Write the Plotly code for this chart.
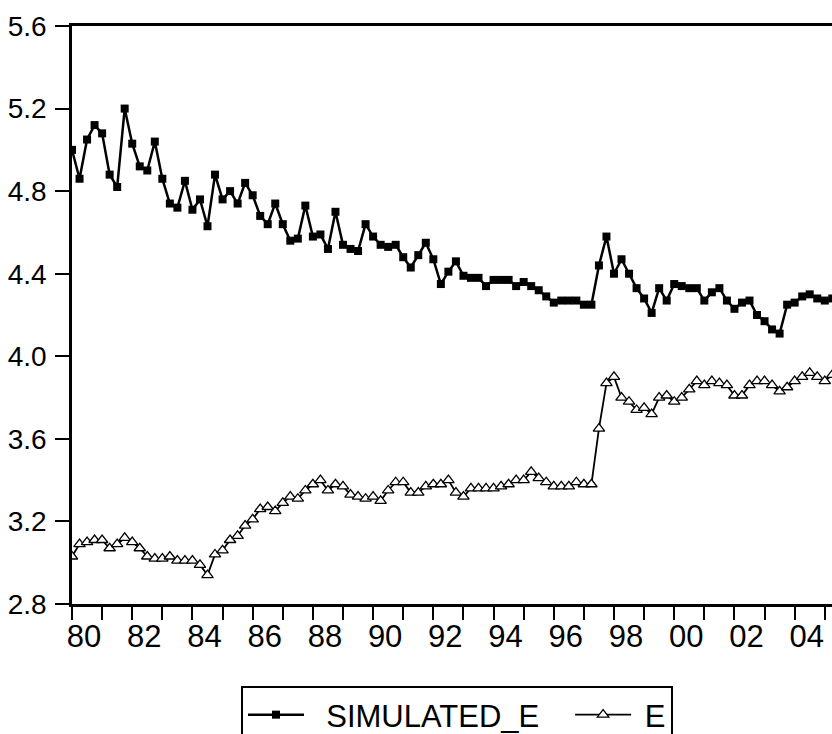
import plotly.graph_objects as go

# Quarterly periods 1980Q1 .. 2005Q2
quarters = [f"{y}Q{q}" for y in range(1980, 2006) for q in range(1, 5)][:102]

simulated_e = [
    5.00, 4.86, 5.05, 5.12, 5.08, 4.88, 4.82, 5.20, 5.03, 4.92,
    4.90, 5.04, 4.86, 4.74, 4.72, 4.85, 4.71, 4.76, 4.63, 4.88,
    4.76, 4.80, 4.74, 4.84, 4.78, 4.68, 4.64, 4.74, 4.64, 4.56,
    4.57, 4.73, 4.58, 4.59, 4.52, 4.70, 4.54, 4.52, 4.51, 4.64,
    4.58, 4.54, 4.53, 4.54, 4.48, 4.43, 4.49, 4.55, 4.47, 4.35,
    4.41, 4.46, 4.39, 4.38, 4.38, 4.34, 4.37, 4.37, 4.37, 4.34,
    4.36, 4.34, 4.32, 4.29, 4.26, 4.27, 4.27, 4.27, 4.25, 4.25,
    4.44, 4.58, 4.40, 4.47, 4.40, 4.33, 4.28, 4.21, 4.33, 4.27,
    4.35, 4.34, 4.33, 4.33, 4.27, 4.31, 4.33, 4.27, 4.23, 4.26,
    4.27, 4.20, 4.17, 4.13, 4.11, 4.25, 4.26, 4.29, 4.30, 4.28,
    4.27, 4.28,
]

e_values = [
    3.03, 3.09, 3.10, 3.11, 3.11, 3.07, 3.09, 3.12, 3.10, 3.07,
    3.03, 3.02, 3.02, 3.03, 3.01, 3.01, 3.01, 2.99, 2.94, 3.04,
    3.06, 3.11, 3.13, 3.18, 3.21, 3.26, 3.27, 3.25, 3.29, 3.32,
    3.31, 3.35, 3.38, 3.40, 3.35, 3.38, 3.37, 3.33, 3.32, 3.31,
    3.32, 3.30, 3.35, 3.39, 3.39, 3.34, 3.34, 3.37, 3.38, 3.38,
    3.40, 3.34, 3.32, 3.36, 3.36, 3.36, 3.36, 3.37, 3.38, 3.40,
    3.40, 3.44, 3.41, 3.39, 3.37, 3.37, 3.37, 3.39, 3.38, 3.38,
    3.65, 3.87, 3.90, 3.80, 3.78, 3.74, 3.75, 3.72, 3.80, 3.81,
    3.78, 3.80, 3.84, 3.88, 3.86, 3.88, 3.87, 3.86, 3.81, 3.81,
    3.86, 3.88, 3.88, 3.86, 3.83, 3.85, 3.88, 3.90, 3.92, 3.90,
    3.88, 3.91,
]

year_ticks = list(range(1980, 2006, 2))
year_labels = [str(y)[2:] for y in year_ticks]
minor_ticks = list(range(1981, 2006, 2))
y_ticks = [2.8, 3.2, 3.6, 4.0, 4.4, 4.8, 5.2, 5.6]

x_vals = [int(q[:4]) + (int(q[-1]) - 1) / 4 for q in quarters]

FONT = "Liberation Sans, Arial, sans-serif"
NB = "\u00a0"

fig = go.Figure()
fig.add_trace(go.Scatter(
    x=x_vals, y=simulated_e, name=NB + NB + "SIMULATED_E" + NB * 3,
    mode="lines+markers",
    line=dict(color="black", width=2.5),
    marker=dict(symbol="square", size=8, color="black"),
))
fig.add_trace(go.Scatter(
    x=x_vals, y=e_values, name=NB + "E", mode="lines+markers",
    line=dict(color="black", width=1.8),
    marker=dict(symbol="triangle-up", size=10, color="white",
                line=dict(color="black", width=1.3)),
))

fig.update_layout(
    width=832, height=734,
    margin=dict(l=72, r=0, t=26, b=130, autoexpand=False),
    paper_bgcolor="white", plot_bgcolor="white",
    font=dict(family=FONT, color="black"),
    showlegend=True,
    legend=dict(
        orientation="h", xref="container", yref="container",
        x=241 / 832, xanchor="left", y=1 - 686 / 734, yanchor="top",
        bordercolor="black", borderwidth=2, font=dict(size=31, family=FONT),
        itemwidth=56, bgcolor="white",
    ),
    xaxis=dict(
        range=[1980, 2005.24], tickmode="array", tickvals=year_ticks,
        ticktext=year_labels, ticks="outside", ticklen=13, tickwidth=2,
        tickcolor="black", ticklabelshift=12, ticklabelstandoff=-10,
        automargin=False,
        minor=dict(tickmode="array", tickvals=minor_ticks, ticks="outside",
                   ticklen=13, tickwidth=2, tickcolor="black"),
        showline=True, linewidth=2.5, linecolor="black", mirror=True,
        showgrid=False, zeroline=False, tickfont=dict(size=31, family=FONT),
    ),
    yaxis=dict(
        range=[2.8, 5.6], tickmode="array", tickvals=y_ticks,
        ticktext=[f"{v:.1f}" for v in y_ticks], ticks="outside", ticklen=14,
        tickwidth=2, tickcolor="black", showline=True, linewidth=2.5,
        linecolor="black", showgrid=False, zeroline=False, automargin=False,
        ticklabelstandoff=3, tickfont=dict(size=28, family=FONT),
    ),
)

fig.write_html("out.html", config={"displayModeBar": False},
               post_script="document.body.style.margin='0';")
